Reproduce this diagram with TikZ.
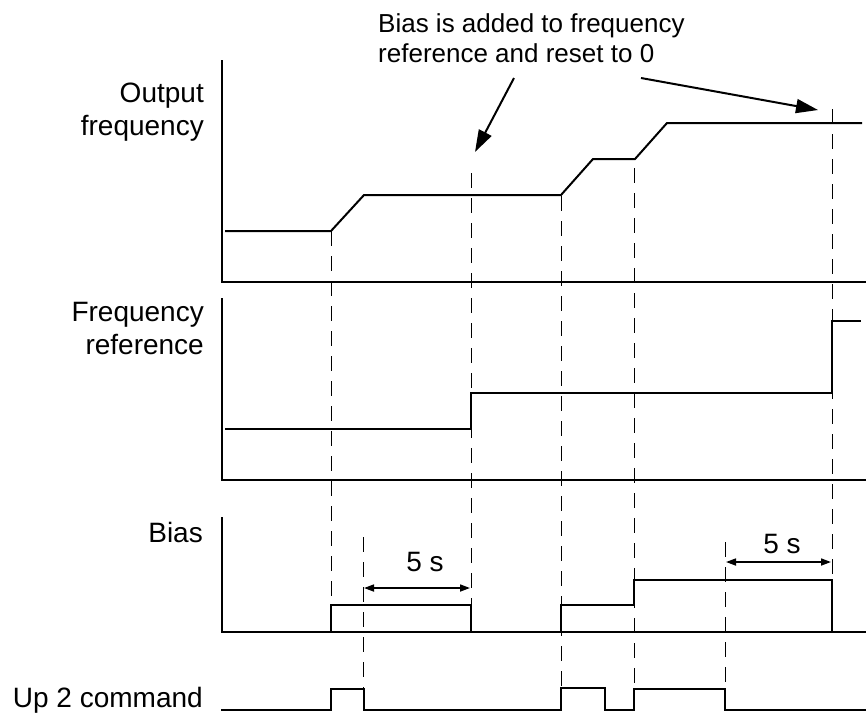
\documentclass[tikz,border=0pt]{standalone}
\usepackage{fontspec}
\setmainfont{Liberation Sans}
\usetikzlibrary{arrows.meta}
\begin{document}
\begin{tikzpicture}[x=1pt,y=-1pt,
  wave/.style={line width=2pt, line join=miter},
  axis/.style={line width=2.4pt},
  guide/.style={line width=0.9pt, dash pattern=on 15pt off 10pt},
  lbl/.style={font=\fontsize{28}{32}\selectfont, inner sep=0pt},
  toplbl/.style={font=\fontsize{26}{30}\selectfont, inner sep=0pt},
  callout/.style={line width=2pt, -{Triangle[length=22pt,width=14pt]}},
  span/.style={line width=1.6pt, {Triangle[length=10pt,width=7pt]}-{Triangle[length=10pt,width=7pt]}}]
\useasboundingbox (0,0) rectangle (866,713);

% labels
\node[lbl, anchor=base east] (outA) at (204,102) {Output};
\node[lbl, anchor=base east] (outB) at (204,135) {frequency};
\node[lbl, anchor=base east] (refA) at (204,321) {Frequency};
\node[lbl, anchor=base east] (refB) at (204,354) {reference};
\node[lbl, anchor=base east] (bias) at (203,542) {Bias};
\node[lbl, anchor=base east] (up) at (203,707) {Up 2 command};
\node[toplbl, anchor=base west] (noteA) at (378,32) {Bias is added to frequency};
\node[toplbl, anchor=base west] (noteB) at (378,62) {reference and reset to 0};
\node[lbl, anchor=base] (t1) at (425,571) {5 s};
\node[lbl, anchor=base] (t2) at (782,553) {5 s};

% guides
\draw[guide] (331,231) -- (331,605);
\draw[guide] (363,537) -- (363,689);
\draw[guide] (471,173) -- (471,605);
\draw[guide] (561,196) -- (561,688);
\draw[guide] (634,168) -- (634,689);
\draw[guide] (725,542) -- (725,689);
\draw[guide] (832,109) -- (832,580);

% axes
\draw[axis] (222,60) -- (222,282) -- (866,282);
\draw[axis] (222,298) -- (222,480) -- (866,480);
\draw[axis] (222,517) -- (222,632) -- (866,632);

% waveforms
\draw[wave] (225,231) -- (331,231) -- (364,195) -- (561,195) -- (593,159) -- (635,159) -- (667,123) -- (862,123);
\draw[wave] (225,429) -- (471,429) -- (471,393) -- (832,393) -- (832,321) -- (861,321);
\draw[wave] (331,632) -- (331,605) -- (471,605) -- (471,632);
\draw[wave] (561,632) -- (561,605) -- (634,605) -- (634,580) -- (832,580) -- (832,632);
\draw[wave] (221,710) -- (331,710) -- (331,689) -- (364,689) -- (364,710) -- (561,710) -- (561,688) -- (605,688) -- (605,710) -- (634,710) -- (634,689) -- (725,689) -- (725,710) -- (866,710);

% 5 s spans
\coordinate (s1a) at (364,588);
\coordinate (s1b) at (470,588);
\coordinate (s2a) at (726,562);
\coordinate (s2b) at (831,562);
\draw[span] (s1a) -- (s1b);
\draw[span] (s2a) -- (s2b);

% callouts
\coordinate (c1s) at (514,78);
\coordinate (c1e) at (475,152);
\coordinate (c2s) at (641,78);
\coordinate (c2e) at (818,110);
\draw[callout] (c1s) -- (c1e);
\draw[callout] (c2s) -- (c2e);
\end{tikzpicture}
\end{document}
